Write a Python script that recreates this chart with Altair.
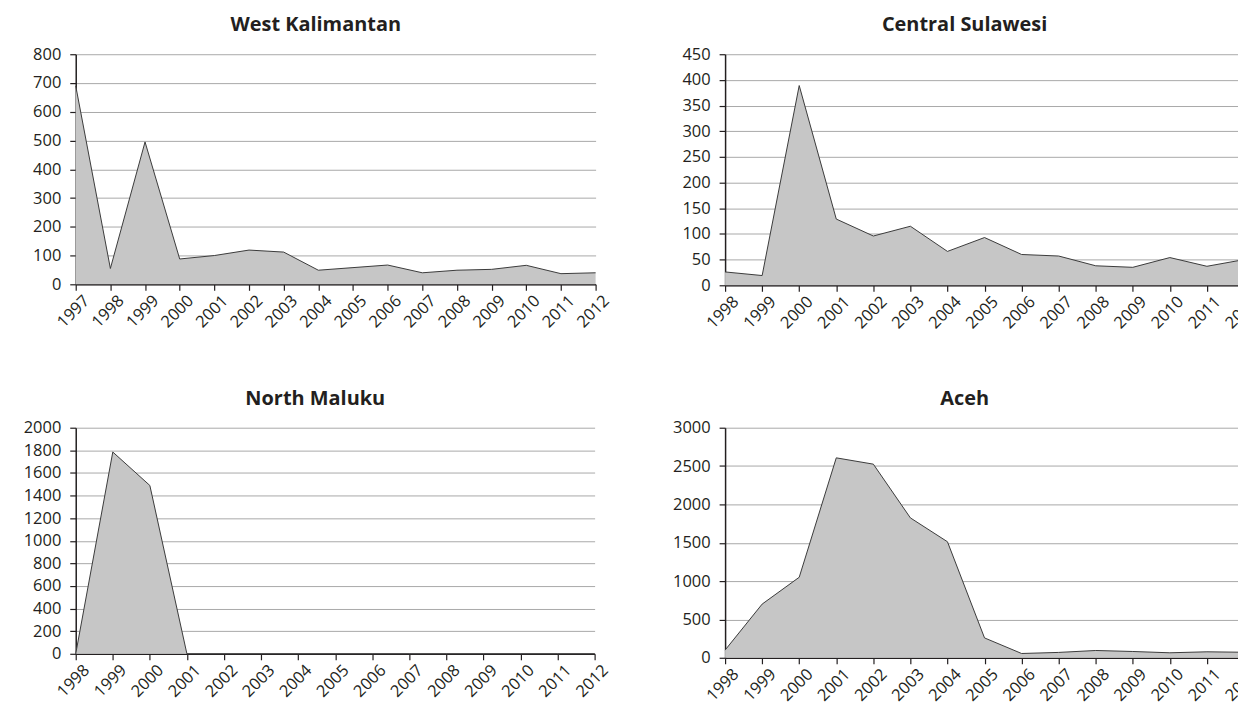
import altair as alt
import pandas as pd

# ---- data ----
years_wk = list(range(1997, 2013))
west_kalimantan = [690, 55, 495, 88, 100, 119, 112, 49, 58, 67, 40, 49, 52, 66, 37, 40]

years_cs = list(range(1998, 2013))
central_sulawesi = [26, 19, 389, 129, 96, 115, 66, 93, 60, 57, 38, 35, 54, 37, 50]

years_nm = list(range(1998, 2013))
north_maluku = [0, 1785, 1489, 0, 0, 0, 0, 0, 0, 0, 0, 0, 0, 0, 0]

years_aceh = list(range(1998, 2013))
aceh = [100, 700, 1050, 2607, 2525, 1824, 1513, 259, 56, 70, 95, 82, 65, 78, 72]

FONT = "Open Sans"
TEXT = "#231f20"


def panel(title, years, values, ymax, ystep, width, height):
    df = pd.DataFrame({"year": years, "value": values})
    yticks = list(range(0, ymax + 1, ystep))
    return (
        alt.Chart(
            df,
            title=alt.TitleParams(
                title, fontSize=20, fontWeight="bold", font=FONT, color=TEXT,
                dx=-20, offset=11,
            ),
        )
        .mark_area(color="#c6c6c6", opacity=1,
                   line={"color": "#3a3a3a", "strokeWidth": 1})
        .encode(
            x=alt.X(
                "year:Q",
                scale=alt.Scale(domain=[years[0], years[-1]], nice=False, zero=False),
                axis=alt.Axis(
                    values=years, format="d", labelAngle=-45, grid=False, title=None,
                    labelAlign="right", labelBaseline="top", labelOffset=5,
                    labelPadding=2, labelFlush=False, labelOverlap=False,
                ),
            ),
            y=alt.Y(
                "value:Q",
                scale=alt.Scale(domain=[0, ymax], nice=False),
                axis=alt.Axis(
                    values=yticks, format="d", title=None, grid=True, labelPadding=9,
                    labelFlush=False, labelOverlap=False,
                ),
            ),
        )
        .properties(width=width, height=height)
    )


p1 = panel("West Kalimantan", years_wk, west_kalimantan, 800, 100, 522, 231)
p2 = panel("Central Sulawesi", years_cs, central_sulawesi, 450, 50, 521, 232)
p3 = panel("North Maluku", years_nm, north_maluku, 2000, 200, 521, 227)
p4 = panel("Aceh", years_aceh, aceh, 3000, 500, 521, 231)

chart = (
    alt.concat(p1, p2, p3, p4, columns=2, spacing={"row": 57, "column": 60})
    .properties(padding={"left": 15, "top": 6, "right": -23, "bottom": 2})
    .configure_view(stroke=None)
    .configure_axis(
        domainColor=TEXT, domainWidth=1.5, tickColor=TEXT, tickSize=6, tickWidth=1.2,
        gridColor="#a8a8a8", gridWidth=1, labelFont=FONT, labelFontSize=16.5,
        labelColor=TEXT,
    )
)

chart.save("out.html", embed_options={"renderer": "svg", "actions": False})
